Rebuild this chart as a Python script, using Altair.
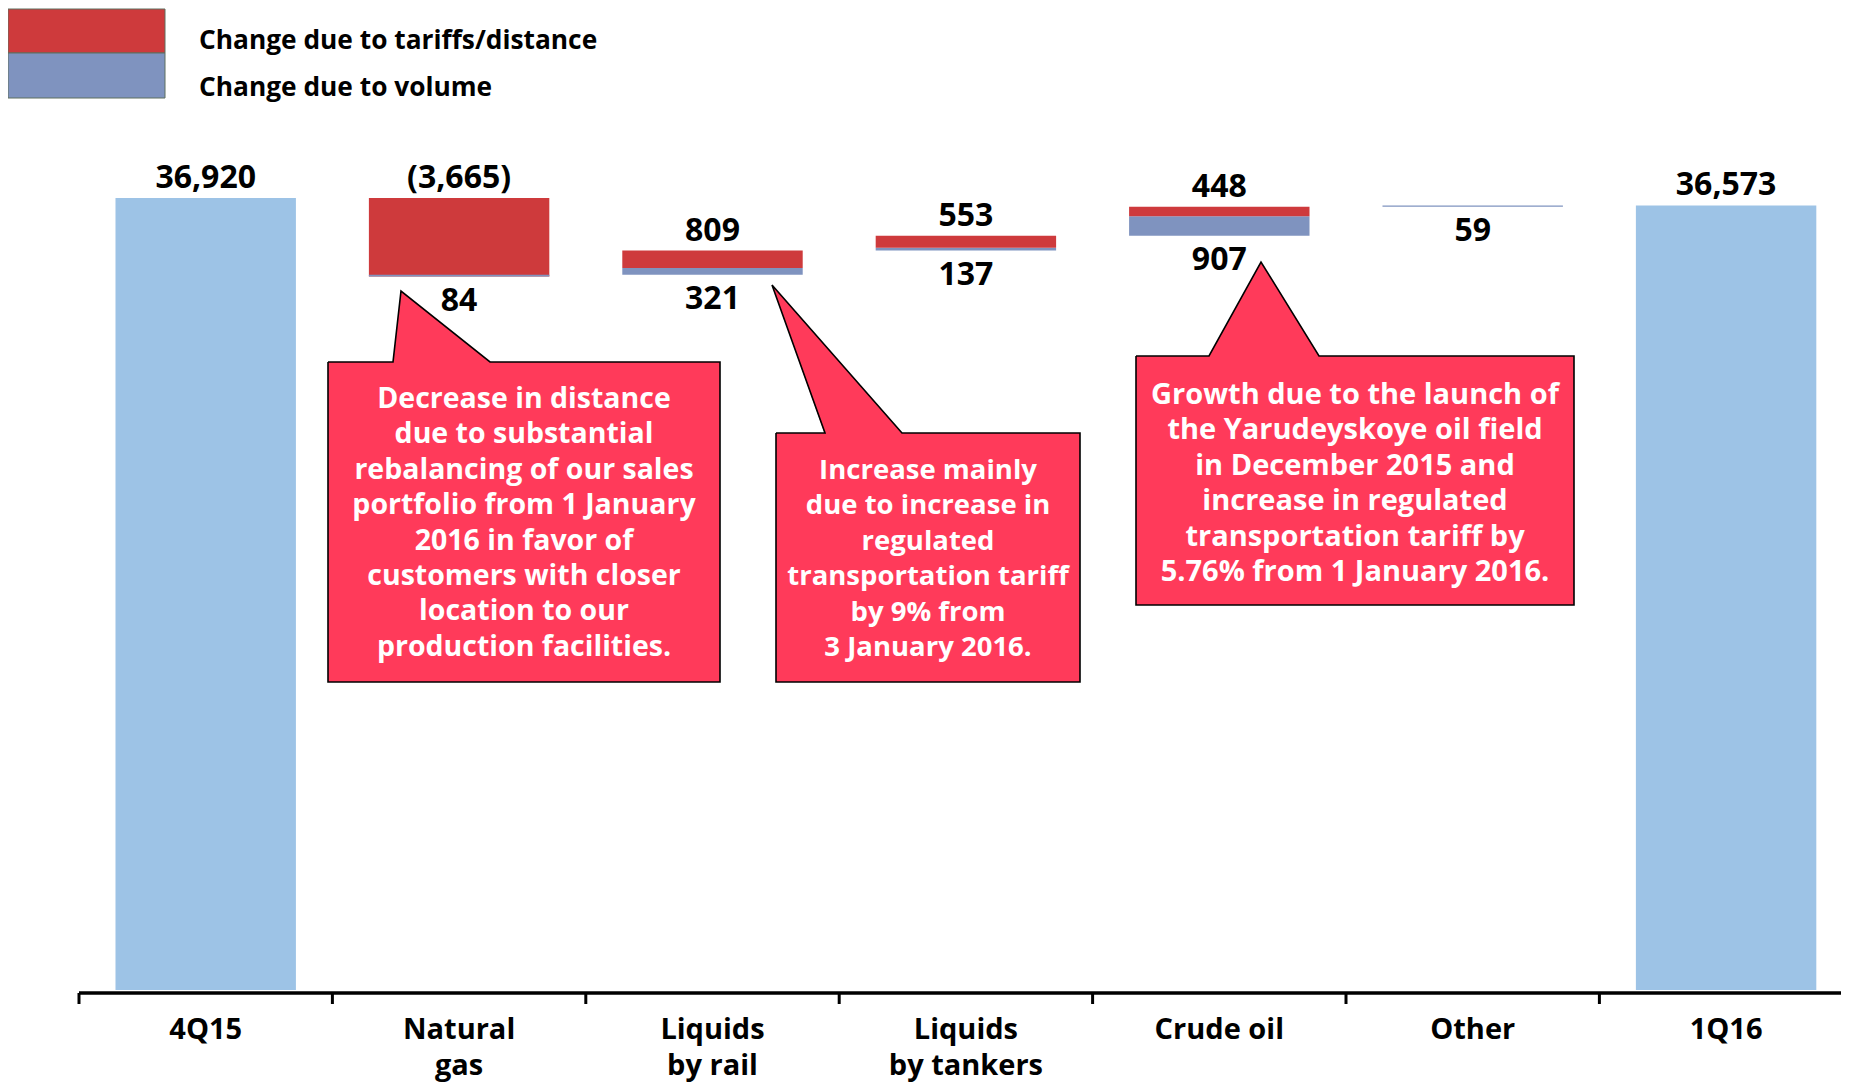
import altair as alt
import pandas as pd

# ---------------- data ----------------
categories = ["4Q15", "Natural\ngas", "Liquids\nby rail", "Liquids\nby tankers",
              "Crude oil", "Other", "1Q16"]
start_total = 36920
end_total = 36573
tariff_change = [None, -3665, 809, 553, 448, None, None]
volume_change = [None, 84, 321, 137, 907, 59, None]

legend_labels = ["Change due to tariffs/distance", "Change due to volume"]
legend_kinds = ["tariff", "volume"]

callout_texts = [
    "Decrease in distance\ndue to substantial\nrebalancing of our sales\nportfolio from 1 January\n"
    "2016 in favor of\ncustomers with closer\nlocation to our\nproduction facilities.",
    "Increase mainly\ndue to increase in\nregulated\ntransportation tariff\nby 9% from\n3 January 2016.",
    "Growth due to the launch of\nthe Yarudeyskoye oil field\nin December 2015 and\nincrease in regulated\n"
    "transportation tariff by\n5.76% from 1 January 2016.",
]

# ---------------- colours / fonts ----------------
C_TOTAL = "#9DC3E6"
C_TARIFF = "#CE3A3C"
C_VOLUME = "#7F93BF"
C_CALLOUT = "#FF3A5A"
FONT = "Open Sans"

# ---------------- layout (page pixels) ----------------
W, H = 1833, 1075
PAGE = 8
U0, BW = 79.0, 253.4          # x of first band edge, band width
Y0, K = 990.0, 792.0 / 36920  # y of zero, px per unit


def ux(px):
    return (px - U0) / BW


def vy(py):
    return (Y0 - py) / K


XDOM = [ux(PAGE), ux(PAGE + W)]
YDOM = [vy(PAGE + H), vy(PAGE)]
BAR_L, BAR_R = 0.144, 0.856

xs = alt.Scale(domain=XDOM, nice=False, zero=False)
ys = alt.Scale(domain=YDOM, nice=False, zero=False)


def X(f):
    return alt.X(f, type="quantitative", scale=xs, axis=None)


def Y(f):
    return alt.Y(f, type="quantitative", scale=ys, axis=None)


def fmt(v):
    s = f"{abs(v):,}"
    return f"({s})" if v < 0 else s


# ---------------- waterfall computation ----------------
total_rows, seg_rows, above_rows, below_rows = [], [], [], []
level = start_total
n = len(categories)
for i, cat in enumerate(categories):
    if i == 0 or i == n - 1:
        val = start_total if i == 0 else end_total
        total_rows.append(dict(x=i + BAR_L, x2=i + BAR_R, y=0, y2=val))
        above_rows.append(dict(x=i + 0.5, y=val, text=fmt(val)))
        continue
    t, v = tariff_change[i], volume_change[i]
    order = [("tariff", t), ("volume", v)] if (t is not None and t < 0) else [("volume", v), ("tariff", t)]
    cur = level
    lo, hi = level, level
    for kind, val in order:
        if val is None:
            continue
        seg_rows.append(dict(x=i + BAR_L, x2=i + BAR_R, y=cur, y2=cur + val, kind=kind))
        cur += val
        lo, hi = min(lo, cur), max(hi, cur)
    if t is not None:
        above_rows.append(dict(x=i + 0.5, y=hi, text=fmt(t)))
    if v is not None:
        below_rows.append(dict(x=i + 0.5, y=lo, text=fmt(v)))
    level = cur

totals = alt.Chart(pd.DataFrame(total_rows)).mark_rect(color=C_TOTAL).encode(
    x=X("x"), x2="x2", y=Y("y"), y2="y2")

segs = alt.Chart(pd.DataFrame(seg_rows)).mark_rect().encode(
    x=X("x"), x2="x2", y=Y("y"), y2="y2",
    color=alt.Color("kind:N", scale=alt.Scale(domain=legend_kinds, range=[C_TARIFF, C_VOLUME]), legend=None))

lab_kw = dict(font=FONT, fontWeight="bold", fontSize=32, color="black", align="center", baseline="alphabetic")
above = alt.Chart(pd.DataFrame(above_rows)).mark_text(dy=-10, **lab_kw).encode(
    x=X("x"), y=Y("y"), text="text:N")
below = alt.Chart(pd.DataFrame(below_rows)).mark_text(dy=34, **lab_kw).encode(
    x=X("x"), y=Y("y"), text="text:N")

# ---------------- axis ----------------
axis_df = pd.DataFrame([dict(x=0, x2=XDOM[1], y=vy(993))])
axis_line = alt.Chart(axis_df).mark_rule(color="black", strokeWidth=3.5).encode(
    x=X("x"), x2="x2", y=Y("y"))
tick_df = pd.DataFrame([dict(x=i, y=vy(993), y2=vy(1004)) for i in range(n)])
ticks = alt.Chart(tick_df).mark_rule(color="black", strokeWidth=3).encode(
    x=X("x"), y=Y("y"), y2="y2")
cat_df = pd.DataFrame([dict(x=i + 0.5, y=vy(1039), text=c) for i, c in enumerate(categories)])
cat_labels = alt.Chart(cat_df).mark_text(
    font=FONT, fontWeight="bold", fontSize=29, color="black", align="center",
    baseline="alphabetic", lineBreak="\n", lineHeight=36).encode(
    x=X("x"), y=Y("y"), text="text:N")

# ---------------- legend ----------------
leg_sw = pd.DataFrame([
    dict(x=ux(PAGE), x2=ux(165), y=vy(9), y2=vy(53), kind="tariff"),
    dict(x=ux(PAGE), x2=ux(165), y=vy(53), y2=vy(98), kind="volume"),
])
legend_sw = alt.Chart(leg_sw).mark_rect(stroke="#5f6f5f", strokeWidth=1).encode(
    x=X("x"), x2="x2", y=Y("y"), y2="y2",
    color=alt.Color("kind:N", scale=alt.Scale(domain=legend_kinds, range=[C_TARIFF, C_VOLUME]), legend=None))
leg_tx = pd.DataFrame([dict(x=ux(199), y=vy(48.5), text=legend_labels[0]),
                       dict(x=ux(199), y=vy(95.5), text=legend_labels[1])])
legend_text = alt.Chart(leg_tx).mark_text(
    font=FONT, fontWeight="bold", fontSize=26.3, color="black", align="left", baseline="alphabetic").encode(
    x=X("x"), y=Y("y"), text="text:N")

# ---------------- callouts ----------------
# (L, R, T, B, base_left, base_right, apex_x, apex_y, text_center_x, first_baseline, font_size)
callout_layout = [
    (328, 720, 362, 682, 393, 490, 401, 291, 524, 408, 28.5),
    (776, 1080, 433, 682, 825, 902, 772, 285, 928, 479, 27.5),
    (1136, 1574, 356, 605, 1209, 1319, 1261, 262, 1355, 404, 29),
]
box_rows, tri_rows, path_rows, text_rows = [], [], [], []
for cid, (L, R, T, B, xl, xr, xa, ya, tcx, tby, fs) in enumerate(callout_layout):
    box_rows.append(dict(x=ux(L), x2=ux(R), y=vy(T), y2=vy(B)))
    Tb = T + 1.5
    if xl <= xa <= xr:
        pts = [(xl, T, Tb), (xa, ya, Tb), (xr, T, Tb)]
    elif xa < xl:
        yr = ya + (T - ya) * (xl - xa) / (xr - xa)
        pts = [(xa, ya, ya), (xl, yr, Tb), (xr, T, Tb)]
    else:
        yl = ya + (T - ya) * (xa - xr) / (xa - xl)
        pts = [(xl, T, Tb), (xr, yl, Tb), (xa, ya, ya)]
    for px, p1, p2 in pts:
        tri_rows.append(dict(cid=cid, x=ux(px), y=vy(p1), y2=vy(p2)))
    outline = [(L, T), (xl, T), (xa, ya), (xr, T), (R, T), (R, B), (L, B), (L, T)]
    for k, (px, py) in enumerate(outline):
        path_rows.append(dict(cid=cid, ord=k, x=ux(px), y=vy(py)))
    text_rows.append(dict(cid=cid, x=ux(tcx), y=vy(tby), text=callout_texts[cid], fs=fs))

box_fill = alt.Chart(pd.DataFrame(box_rows)).mark_rect(color=C_CALLOUT).encode(
    x=X("x"), x2="x2", y=Y("y"), y2="y2")
tri_fill = alt.Chart(pd.DataFrame(tri_rows)).mark_area(color=C_CALLOUT, opacity=1).encode(
    x=X("x"), y=Y("y"), y2="y2", detail="cid:N")
outline_ln = alt.Chart(pd.DataFrame(path_rows)).mark_line(
    color="black", strokeWidth=1.6, strokeJoin="miter").encode(
    x=X("x"), y=Y("y"), order="ord:Q", detail="cid:N")
callout_text = alt.Chart(pd.DataFrame(text_rows)).mark_text(
    font=FONT, fontWeight="bold", color="white", align="center",
    baseline="alphabetic", lineBreak="\n", lineHeight=35.4).encode(
    x=X("x"), y=Y("y"), text="text:N",
    size=alt.Size("fs:Q", scale=None, legend=None))

chart = alt.layer(
    totals, segs, above, below, axis_line, ticks, cat_labels,
    legend_sw, legend_text, box_fill, tri_fill, outline_ln, callout_text
).properties(
    width=W, height=H, padding=0,
    autosize=alt.AutoSizeParams(type="none"),
    background="white",
).configure_view(strokeWidth=0)

chart.save("out.html", embed_options={"renderer": "svg", "actions": False})
